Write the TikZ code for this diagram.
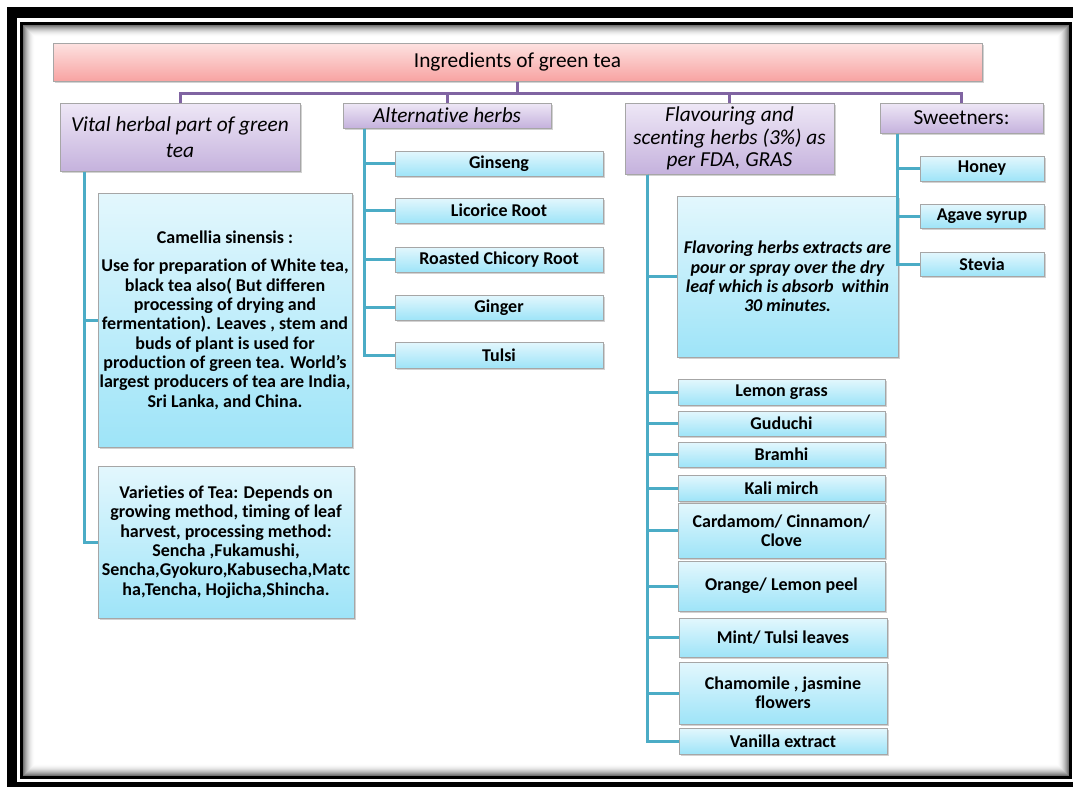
\documentclass[tikz,border=0pt]{standalone}
\usepackage{fontspec}
\setmainfont{Carlito}[Ligatures=CommonOff]
\usetikzlibrary{shadows,calc}
\definecolor{pline}{HTML}{8064A2}
\definecolor{tline}{HTML}{4BACC6}
\definecolor{bgray}{HTML}{A6A6A6}
\definecolor{ttop}{HTML}{FDE2E1}
\definecolor{tbot}{HTML}{F8A3A2}
\definecolor{ltop}{HTML}{EEE7F6}
\definecolor{lbot}{HTML}{C5B2DD}
\definecolor{ctop}{HTML}{E3F7FD}
\definecolor{cbot}{HTML}{9EE4F8}
\begin{document}
\begin{tikzpicture}[x=0.75pt,y=-0.75pt,
  bx/.style args={#1/#2/#3/#4}{at={({(#1+#3)/2},{(#2+#4)/2})},
     minimum width={(#3-#1)*0.75pt},minimum height={(#4-#2)*0.75pt}},
  basebox/.style={draw=bgray,line width=0.75pt,inner sep=0pt,align=center,
     drop shadow={shadow xshift=1.5pt,shadow yshift=-1.5pt,opacity=0.35}},
  titlebox/.style={basebox,top color=ttop,bottom color=tbot,
     font=\fontsize{16}{19.5}\selectfont},
  headbox/.style={basebox,top color=ltop,bottom color=lbot,
     font=\fontsize{16}{19.5}\selectfont\itshape},
  leafbox/.style={basebox,top color=ctop,bottom color=cbot,
     font=\fontsize{13.5}{14.5}\selectfont\bfseries},
  purpleline/.style={draw=pline,line width=2.25pt},
  tealline/.style={draw=tline,line width=2.25pt}]
\useasboundingbox (0,0) rectangle (1073,786);
\clip (0,0) rectangle (1073,786);
\fill[white] (0,0) rectangle (1073,786);
% frame
\fill[black] (7,7) rectangle (1100,800);
\fill[white] (17,18) rectangle (1090,782);
\draw[black,line width=2.25pt] (21.5,23.5) rectangle (1070.5,777.5);
\foreach \i in {0,...,11}{
  \pgfmathsetmacro\op{0.55*(1-\i/12)^2}
  \draw[black,opacity=\op,line width=0.75pt] (23.5+\i,25.5+\i) rectangle (1068.5-\i,775.5-\i);
}
% title
\node[titlebox,bx=53/43/982/81] (t) {Ingredients of green tea};
% level 1
\node[headbox,bx=60/103/300/171] (v) {Vital herbal part of green\\tea};
\node[headbox,bx=343/103/551/128] (a) {Alternative herbs};
\node[headbox,bx=625/103/834/174,font=\fontsize{16}{17}\selectfont\itshape] (f) {Flavouring and\\scenting herbs (3\%) as\\per FDA, GRAS};
\node[headbox,bx=880/103/1043/133,font=\fontsize{16}{19.5}\selectfont\upshape] (s) {Sweetners:};
% vital children
\node[leafbox,bx=98/193/352/447] (cam) {Camellia sinensis :\\[7pt]
Use for preparation of White tea,\\black tea also( But differen\\processing of drying and\\fermentation). Leaves , stem and\\buds of plant is used for\\production of green tea. World's\\largest producers of tea are India,\\Sri Lanka, and China.};
\node[leafbox,bx=98/466/354/618] (var) {Varieties of Tea: Depends on\\growing method, timing of leaf\\harvest, processing method:\\Sencha ,Fukamushi,\\Sencha,Gyokuro,Kabusecha,Matc\\ha,Tencha, Hojicha,Shincha.};
% alternative children
\node[leafbox,bx=395/151/603/176] (a1) {Ginseng};
\node[leafbox,bx=395/198/603/223] (a2) {Licorice Root};
\node[leafbox,bx=395/247/603/272] (a3) {Roasted Chicory Root};
\node[leafbox,bx=395/295/603/320] (a4) {Ginger};
\node[leafbox,bx=395/342/603/368] (a5) {Tulsi};
% flavouring children
\node[leafbox,bx=677/196/898/357,font=\fontsize{13.5}{14.5}\selectfont\bfseries\itshape] (fx) {Flavoring herbs extracts are\\pour or spray over the dry\\leaf which is absorb \ within\\30 minutes.};
\node[leafbox,bx=678/379/885/405] (f1) {Lemon grass};
\node[leafbox,bx=678/411/885/436] (f2) {Guduchi};
\node[leafbox,bx=678/442/885/467] (f3) {Bramhi};
\node[leafbox,bx=678/475/885/501] (f4) {Kali mirch};
\node[leafbox,bx=678/503/885/558] (f5) {Cardamom/ Cinnamon/\\Clove};
\node[leafbox,bx=678/561/885/611] (f6) {Orange/ Lemon peel};
\node[leafbox,bx=679/618/887/657] (f7) {Mint/ Tulsi leaves};
\node[leafbox,bx=679/662/887/724] (f8) {Chamomile , jasmine\\flowers};
\node[leafbox,bx=679/728/887/754] (f9) {Vanilla extract};
% sweetener children
\node[leafbox,bx=920/156/1044/181] (s1) {Honey};
\node[leafbox,bx=920/204/1044/228] (s2) {Agave syrup};
\node[leafbox,bx=920/252/1044/276] (s3) {Stevia};
% purple connectors
\coordinate (bus) at (0,93);
\draw[purpleline] (t.south) -- (t.south |- bus);
\draw[purpleline] (v.north) |- (bus -| s.north) -- (s.north);
\draw[purpleline] (a.north) -- (a.north |- bus);
\draw[purpleline] (f.north) -- (f.north |- bus);
% teal connectors
\coordinate (vt) at ($(v.south west)+(25,0)$);
\draw[tealline] (vt) |- (cam.west);
\draw[tealline] (vt) |- (var.west);
\coordinate (at) at ($(a.south west)+(22,0)$);
\foreach \n in {a1,a2,a3,a4,a5} \draw[tealline] (at) |- (\n.west);
\coordinate (ft) at ($(f.south west)+(23,0)$);
\foreach \n in {fx,f1,f2,f3,f4,f5,f6,f7,f8,f9} \draw[tealline] (ft) |- (\n.west);
\coordinate (st) at ($(s.south west)+(18,0)$);
\foreach \n in {s1,s2,s3} \draw[tealline] (st) |- (\n.west);
\end{tikzpicture}
\end{document}
